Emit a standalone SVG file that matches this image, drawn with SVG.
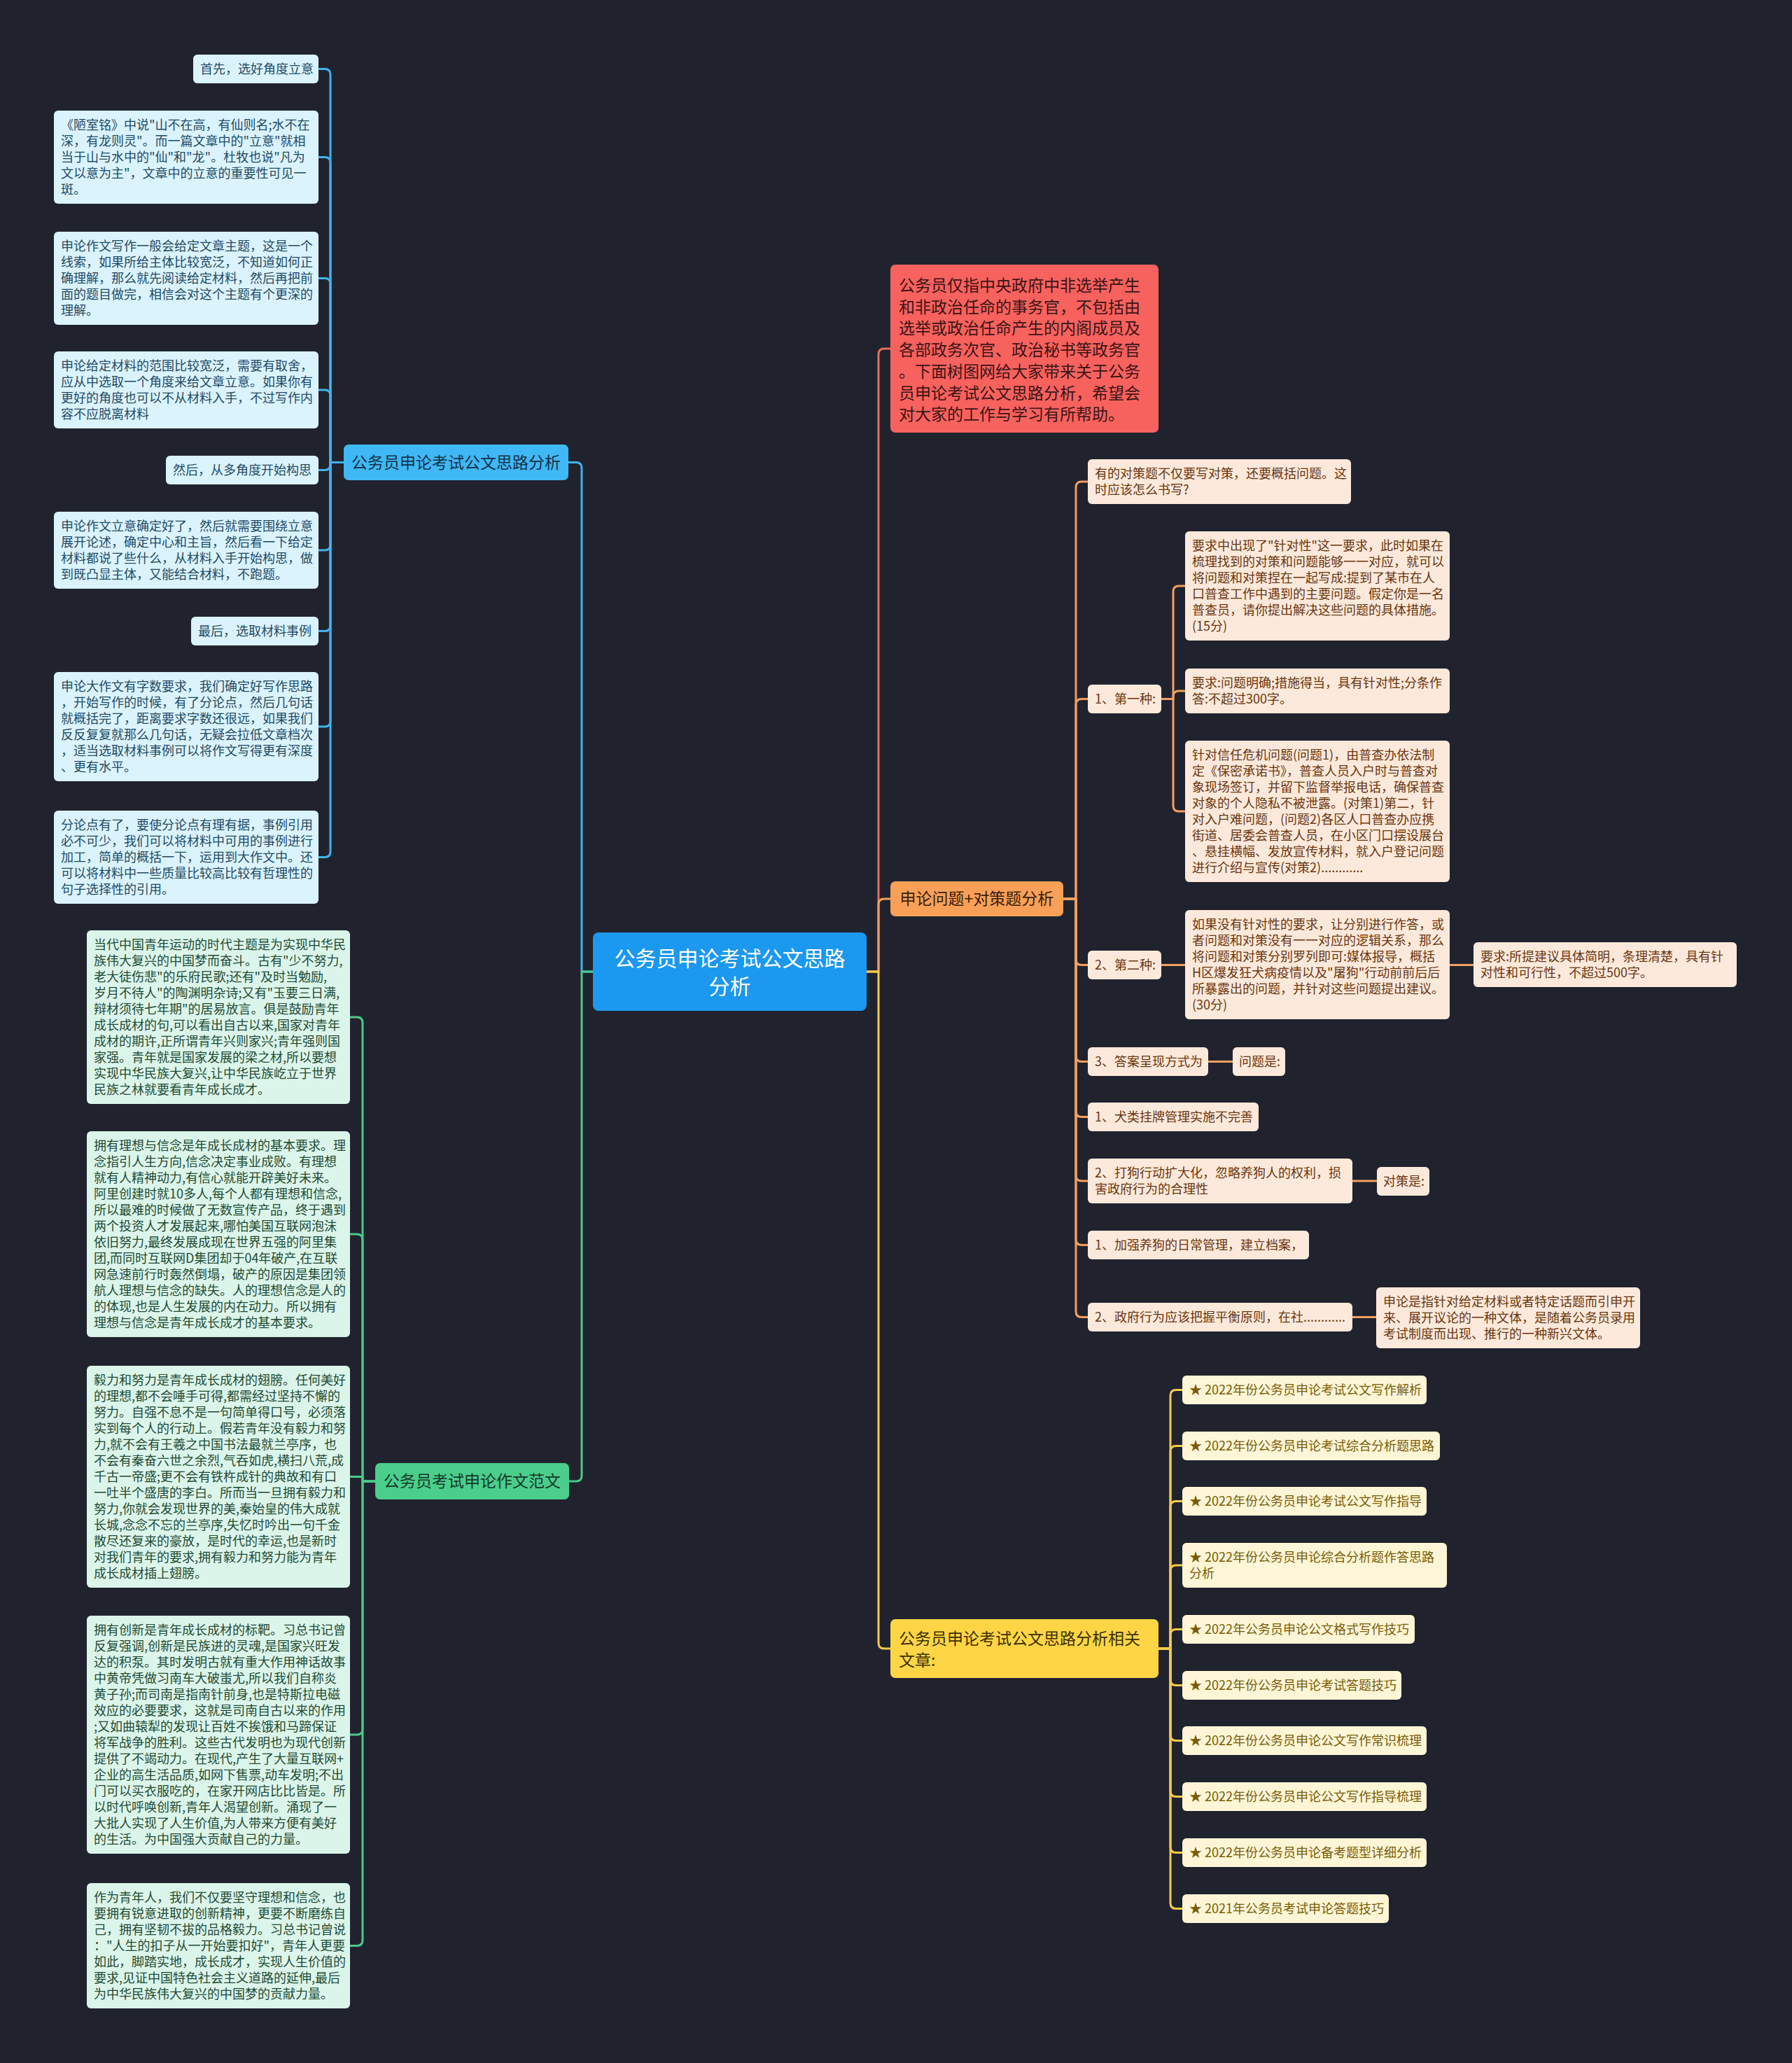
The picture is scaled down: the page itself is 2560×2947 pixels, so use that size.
<svg xmlns="http://www.w3.org/2000/svg" width="2560" height="2947" viewBox="0 0 2560 2947">
<style>
text{font-family:'Noto Sans CJK SC','Noto Sans',sans-serif;}
.t18{font-size:18px;}
.t23{font-size:23px;}
.c{fill:none;stroke-width:3;stroke-linecap:round;stroke-linejoin:round;}
.cb{stroke:#3fb4ee;}.cg{stroke:#4bc98a;}.cr{stroke:#ea6a5c;}.co{stroke:#f0a062;}.cy{stroke:#f2cc45;}
.nb rect{fill:#dbf3fd;}.nb text{fill:#1f4a66;}
.ng rect{fill:#dcf5ea;}.ng text{fill:#1e4a34;}
.no rect{fill:#fde9db;}.no text{fill:#6a3510;}
.ny rect{fill:#fef6d6;}.ny text{fill:#7a5b08;}
</style>
<rect x="0" y="0" width="2560" height="2947" fill="#20232e"/>

<g id="connectors">
<path class="c cb" d="M847 1388 H831 V668.5 Q831 660.5 823 660.5 H812"/>
<path class="c cg" d="M847 1388 H831 V2108 Q831 2116 823 2116 H813"/>
<path class="c cr" d="M1238 1388 H1255 V506 Q1255 498 1263 498 H1272"/>
<path class="c co" d="M1238 1388 H1255 V1292 Q1255 1284 1263 1284 H1272"/>
<path class="c cy" d="M1238 1388 H1255 V2347 Q1255 2355 1263 2355 H1272"/>
<path class="c cb" d="M491 660.5 H472 V106.5 Q472 98.5 464 98.5 H455"/>
<path class="c cb" d="M491 660.5 H472 V232.5 Q472 224.5 464 224.5 H455"/>
<path class="c cb" d="M491 660.5 H472 V405.5 Q472 397.5 464 397.5 H455"/>
<path class="c cb" d="M491 660.5 H472 V565 Q472 557 464 557 H455"/>
<path class="c cb" d="M491 660.5 H472 V663.5 Q472 671.5 464 671.5 H455"/>
<path class="c cb" d="M491 660.5 H472 V778 Q472 786 464 786 H455"/>
<path class="c cb" d="M491 660.5 H472 V893.5 Q472 901.5 464 901.5 H455"/>
<path class="c cb" d="M491 660.5 H472 V1030 Q472 1038 464 1038 H455"/>
<path class="c cb" d="M491 660.5 H472 V1216.5 Q472 1224.5 464 1224.5 H455"/>
<path class="c cg" d="M536 2116 H518 V1461 Q518 1453 510 1453 H500"/>
<path class="c cg" d="M536 2116 H518 V1771 Q518 1763 510 1763 H500"/>
<path class="c cg" d="M536 2116 H518 V2112.5 Q518 2109.5 515 2109.5 H500"/>
<path class="c cg" d="M536 2116 H518 V2470 Q518 2478 510 2478 H500"/>
<path class="c cg" d="M536 2116 H518 V2771.5 Q518 2779.5 510 2779.5 H500"/>
<path class="c co" d="M1519 1284 H1537 V696 Q1537 688 1545 688 H1554"/>
<path class="c co" d="M1519 1284 H1537 V1006.5 Q1537 998.5 1545 998.5 H1554"/>
<path class="c co" d="M1519 1284 H1537 V1370.5 Q1537 1378.5 1545 1378.5 H1554"/>
<path class="c co" d="M1519 1284 H1537 V1508.5 Q1537 1516.5 1545 1516.5 H1554"/>
<path class="c co" d="M1519 1284 H1537 V1587.5 Q1537 1595.5 1545 1595.5 H1554"/>
<path class="c co" d="M1519 1284 H1537 V1679 Q1537 1687 1545 1687 H1554"/>
<path class="c co" d="M1519 1284 H1537 V1770.5 Q1537 1778.5 1545 1778.5 H1554"/>
<path class="c co" d="M1519 1284 H1537 V1873.5 Q1537 1881.5 1545 1881.5 H1554"/>
<path class="c co" d="M1659 998.5 H1676 V845 Q1676 837 1684 837 H1693"/>
<path class="c co" d="M1659 998.5 H1676 V995 Q1676 987 1684 987 H1693"/>
<path class="c co" d="M1659 998.5 H1676 V1151 Q1676 1159 1684 1159 H1693"/>
<path class="c co" d="M1659 1378.5 H1693"/>
<path class="c co" d="M2071 1378.5 H2105"/>
<path class="c co" d="M1726 1516.5 H1761"/>
<path class="c co" d="M1932 1687 H1967"/>
<path class="c co" d="M1932 1881.5 H1966"/>
<path class="c cy" d="M1655 2355 H1672 V1993.5 Q1672 1985.5 1680 1985.5 H1689"/>
<path class="c cy" d="M1655 2355 H1672 V2073.5 Q1672 2065.5 1680 2065.5 H1689"/>
<path class="c cy" d="M1655 2355 H1672 V2152.5 Q1672 2144.5 1680 2144.5 H1689"/>
<path class="c cy" d="M1655 2355 H1672 V2244 Q1672 2236 1680 2236 H1689"/>
<path class="c cy" d="M1655 2355 H1672 V2335.5 Q1672 2327.5 1680 2327.5 H1689"/>
<path class="c cy" d="M1655 2355 H1672 V2399.5 Q1672 2407.5 1680 2407.5 H1689"/>
<path class="c cy" d="M1655 2355 H1672 V2478.5 Q1672 2486.5 1680 2486.5 H1689"/>
<path class="c cy" d="M1655 2355 H1672 V2558.5 Q1672 2566.5 1680 2566.5 H1689"/>
<path class="c cy" d="M1655 2355 H1672 V2638.5 Q1672 2646.5 1680 2646.5 H1689"/>
<path class="c cy" d="M1655 2355 H1672 V2718.5 Q1672 2726.5 1680 2726.5 H1689"/>
</g>

<g id="root">
<rect x="847" y="1332" width="391" height="112" rx="8" fill="#1b98ef"/>
<text x="1042.5" y="1380" font-size="30" fill="#ffffff" text-anchor="middle">公务员申论考试公文思路</text>
<text x="1042.5" y="1420" font-size="30" fill="#ffffff" text-anchor="middle">分析</text>
</g>

<g id="branch-blue">
<rect x="491" y="635" width="321" height="51" rx="7" fill="#3fb8f5"/>
<text class="t23" x="651.5" y="668.5" fill="#15324a" text-anchor="middle">公务员申论考试公文思路分析</text>
</g>
<g id="branch-green">
<rect x="536" y="2090" width="277" height="52" rx="7" fill="#4bcd8c"/>
<text class="t23" x="674.5" y="2124" fill="#143a28" text-anchor="middle">公务员考试申论作文范文</text>
</g>
<g id="node-red">
<rect x="1272" y="378" width="383" height="240" rx="7" fill="#f7615e"/>
<g class="t23" fill="#3b1414">
<text x="1284" y="416">公务员仅指中央政府中非选举产生</text>
<text x="1284" y="447">和非政治任命的事务官，不包括由</text>
<text x="1284" y="477">选举或政治任命产生的内阁成员及</text>
<text x="1284" y="508">各部政务次官、政治秘书等政务官</text>
<text x="1284" y="539">。下面树图网给大家带来关于公务</text>
<text x="1284" y="570">员申论考试公文思路分析，希望会</text>
<text x="1284" y="600">对大家的工作与学习有所帮助。</text>
</g>
</g>
<g id="branch-orange">
<rect x="1272" y="1259" width="247" height="50" rx="7" fill="#f9a058"/>
<text class="t23" x="1395.5" y="1292" fill="#3a2008" text-anchor="middle">申论问题+对策题分析</text>
</g>
<g id="branch-yellow">
<rect x="1272" y="2313" width="383" height="84" rx="7" fill="#fdd545"/>
<text class="t23" x="1284" y="2349" fill="#3d3000">公务员申论考试公文思路分析相关</text>
<text class="t23" x="1284" y="2380" fill="#3d3000">文章:</text>
</g>

<g id="b1" class="nb t18"><rect x="276" y="78" width="179" height="41" rx="6"/><text x="286" y="105">首先，选好角度立意</text></g>
<g id="b2" class="nb t18"><rect x="77" y="158" width="378" height="133" rx="6"/>
<text x="87" y="185">《陋室铭》中说"山不在高，有仙则名;水不在</text>
<text x="87" y="208">深，有龙则灵"。而一篇文章中的"立意"就相</text>
<text x="87" y="231">当于山与水中的"仙"和"龙"。杜牧也说"凡为</text>
<text x="87" y="254">文以意为主"，文章中的立意的重要性可见一</text>
<text x="87" y="277">斑。</text></g>
<g id="b3" class="nb t18"><rect x="77" y="331" width="378" height="133" rx="6"/>
<text x="87" y="358">申论作文写作一般会给定文章主题，这是一个</text>
<text x="87" y="381">线索，如果所给主体比较宽泛，不知道如何正</text>
<text x="87" y="404">确理解，那么就先阅读给定材料，然后再把前</text>
<text x="87" y="427">面的题目做完，相信会对这个主题有个更深的</text>
<text x="87" y="450">理解。</text></g>
<g id="b4" class="nb t18"><rect x="77" y="502" width="378" height="110" rx="6"/>
<text x="87" y="529">申论给定材料的范围比较宽泛，需要有取舍，</text>
<text x="87" y="552">应从中选取一个角度来给文章立意。如果你有</text>
<text x="87" y="575">更好的角度也可以不从材料入手，不过写作内</text>
<text x="87" y="598">容不应脱离材料</text></g>
<g id="b5" class="nb t18"><rect x="237" y="651" width="218" height="41" rx="6"/><text x="247" y="678">然后，从多角度开始构思</text></g>
<g id="b6" class="nb t18"><rect x="77" y="731" width="378" height="110" rx="6"/>
<text x="87" y="758">申论作文立意确定好了，然后就需要围绕立意</text>
<text x="87" y="781">展开论述，确定中心和主旨，然后看一下给定</text>
<text x="87" y="804">材料都说了些什么，从材料入手开始构思，做</text>
<text x="87" y="827">到既凸显主体，又能结合材料，不跑题。</text></g>
<g id="b7" class="nb t18"><rect x="273" y="881" width="182" height="41" rx="6"/><text x="283" y="908">最后，选取材料事例</text></g>
<g id="b8" class="nb t18"><rect x="77" y="960" width="378" height="156" rx="6"/>
<text x="87" y="987">申论大作文有字数要求，我们确定好写作思路</text>
<text x="87" y="1010">，开始写作的时候，有了分论点，然后几句话</text>
<text x="87" y="1033">就概括完了，距离要求字数还很远，如果我们</text>
<text x="87" y="1056">反反复复就那么几句话，无疑会拉低文章档次</text>
<text x="87" y="1079">，适当选取材料事例可以将作文写得更有深度</text>
<text x="87" y="1102">、更有水平。</text></g>
<g id="b9" class="nb t18"><rect x="77" y="1158" width="378" height="133" rx="6"/>
<text x="87" y="1185">分论点有了，要使分论点有理有据，事例引用</text>
<text x="87" y="1208">必不可少，我们可以将材料中可用的事例进行</text>
<text x="87" y="1231">加工，简单的概括一下，运用到大作文中。还</text>
<text x="87" y="1254">可以将材料中一些质量比较高比较有哲理性的</text>
<text x="87" y="1277">句子选择性的引用。</text></g>

<g id="g1" class="ng t18"><rect x="124" y="1329" width="376" height="248" rx="6"/>
<text x="134" y="1356">当代中国青年运动的时代主题是为实现中华民</text>
<text x="134" y="1379">族伟大复兴的中国梦而奋斗。古有"少不努力,</text>
<text x="134" y="1402">老大徒伤悲"的乐府民歌;还有"及时当勉励,</text>
<text x="134" y="1425">岁月不待人"的陶渊明杂诗;又有"玉要三日满,</text>
<text x="134" y="1448">辩材须待七年期"的居易放言。俱是鼓励青年</text>
<text x="134" y="1471">成长成材的句,可以看出自古以来,国家对青年</text>
<text x="134" y="1494">成材的期许,正所谓青年兴则家兴;青年强则国</text>
<text x="134" y="1517">家强。青年就是国家发展的梁之材,所以要想</text>
<text x="134" y="1540">实现中华民族大复兴,让中华民族屹立于世界</text>
<text x="134" y="1563">民族之林就要看青年成长成才。</text></g>
<g id="g2" class="ng t18"><rect x="124" y="1616" width="376" height="294" rx="6"/>
<text x="134" y="1643">拥有理想与信念是年成长成材的基本要求。理</text>
<text x="134" y="1666">念指引人生方向,信念决定事业成败。有理想</text>
<text x="134" y="1689">就有人精神动力,有信心就能开辟美好未来。</text>
<text x="134" y="1712">阿里创建时就10多人,每个人都有理想和信念,</text>
<text x="134" y="1735">所以最难的时候做了无数宣传产品，终于遇到</text>
<text x="134" y="1758">两个投资人才发展起来,哪怕美国互联网泡沫</text>
<text x="134" y="1781">依旧努力,最终发展成现在世界五强的阿里集</text>
<text x="134" y="1804">团,而同时互联网D集团却于04年破产,在互联</text>
<text x="134" y="1827">网急速前行时轰然倒塌，破产的原因是集团领</text>
<text x="134" y="1850">航人理想与信念的缺失。人的理想信念是人的</text>
<text x="134" y="1873">的体现,也是人生发展的内在动力。所以拥有</text>
<text x="134" y="1896">理想与信念是青年成长成才的基本要求。</text></g>
<g id="g3" class="ng t18"><rect x="124" y="1951" width="376" height="317" rx="6"/>
<text x="134" y="1978">毅力和努力是青年成长成材的翅膀。任何美好</text>
<text x="134" y="2001">的理想,都不会唾手可得,都需经过坚持不懈的</text>
<text x="134" y="2024">努力。自强不息不是一句简单得口号，必须落</text>
<text x="134" y="2047">实到每个人的行动上。假若青年没有毅力和努</text>
<text x="134" y="2070">力,就不会有王羲之中国书法最就兰亭序，也</text>
<text x="134" y="2093">不会有秦奋六世之余烈,气吞如虎,横扫八荒,成</text>
<text x="134" y="2116">千古一帝盛;更不会有铁杵成针的典故和有口</text>
<text x="134" y="2139">一吐半个盛唐的李白。所而当一旦拥有毅力和</text>
<text x="134" y="2162">努力,你就会发现世界的美,秦始皇的伟大成就</text>
<text x="134" y="2185">长城,念念不忘的兰亭序,失忆时吟出一句千金</text>
<text x="134" y="2208">散尽还复来的豪放，是时代的幸运,也是新时</text>
<text x="134" y="2231">对我们青年的要求,拥有毅力和努力能为青年</text>
<text x="134" y="2254">成长成材插上翅膀。</text></g>
<g id="g4" class="ng t18"><rect x="124" y="2308" width="376" height="340" rx="6"/>
<text x="134" y="2335">拥有创新是青年成长成材的标靶。习总书记曾</text>
<text x="134" y="2358">反复强调,创新是民族进的灵魂,是国家兴旺发</text>
<text x="134" y="2381">达的积泵。其时发明古就有重大作用神话故事</text>
<text x="134" y="2404">中黄帝凭做习南车大破蚩尤,所以我们自称炎</text>
<text x="134" y="2427">黄子孙;而司南是指南针前身,也是特斯拉电磁</text>
<text x="134" y="2450">效应的必要要求，这就是司南自古以来的作用</text>
<text x="134" y="2473">;又如曲辕犁的发现让百姓不挨饿和马蹄保证</text>
<text x="134" y="2496">将军战争的胜利。这些古代发明也为现代创新</text>
<text x="134" y="2519">提供了不竭动力。在现代,产生了大量互联网+</text>
<text x="134" y="2542">企业的高生活品质,如网下售票,动车发明;不出</text>
<text x="134" y="2565">门可以买衣服吃的，在家开网店比比皆是。所</text>
<text x="134" y="2588">以时代呼唤创新,青年人渴望创新。涌现了一</text>
<text x="134" y="2611">大批人实现了人生价值,为人带来方便有美好</text>
<text x="134" y="2634">的生活。为中国强大贡献自己的力量。</text></g>
<g id="g5" class="ng t18"><rect x="124" y="2690" width="376" height="179" rx="6"/>
<text x="134" y="2717">作为青年人，我们不仅要坚守理想和信念，也</text>
<text x="134" y="2740">要拥有锐意进取的创新精神，更要不断磨练自</text>
<text x="134" y="2763">己，拥有坚韧不拔的品格毅力。习总书记曾说</text>
<text x="134" y="2786">："人生的扣子从一开始要扣好"，青年人更要</text>
<text x="134" y="2809">如此，脚踏实地，成长成才，实现人生价值的</text>
<text x="134" y="2832">要求,见证中国特色社会主义道路的延伸,最后</text>
<text x="134" y="2855">为中华民族伟大复兴的中国梦的贡献力量。</text></g>

<g id="o1" class="no t18"><rect x="1554" y="656" width="376" height="64" rx="6"/>
<text x="1564" y="683">有的对策题不仅要写对策，还要概括问题。这</text>
<text x="1564" y="706">时应该怎么书写?</text></g>
<g id="o2" class="no t18"><rect x="1554" y="978" width="105" height="41" rx="6"/><text x="1564" y="1005">1、第一种:</text></g>
<g id="o2a" class="no t18"><rect x="1693" y="759" width="378" height="156" rx="6"/>
<text x="1703" y="786">要求中出现了"针对性"这一要求，此时如果在</text>
<text x="1703" y="809">梳理找到的对策和问题能够一一对应，就可以</text>
<text x="1703" y="832">将问题和对策捏在一起写成:提到了某市在人</text>
<text x="1703" y="855">口普查工作中遇到的主要问题。假定你是一名</text>
<text x="1703" y="878">普查员，请你提出解决这些问题的具体措施。</text>
<text x="1703" y="901">(15分)</text></g>
<g id="o2b" class="no t18"><rect x="1693" y="955" width="378" height="64" rx="6"/>
<text x="1703" y="982">要求:问题明确;措施得当，具有针对性;分条作</text>
<text x="1703" y="1005">答:不超过300字。</text></g>
<g id="o2c" class="no t18"><rect x="1693" y="1058" width="378" height="202" rx="6"/>
<text x="1703" y="1085">针对信任危机问题(问题1)，由普查办依法制</text>
<text x="1703" y="1108">定《保密承诺书》，普查人员入户时与普查对</text>
<text x="1703" y="1131">象现场签订，并留下监督举报电话，确保普查</text>
<text x="1703" y="1154">对象的个人隐私不被泄露。(对策1)第二，针</text>
<text x="1703" y="1177">对入户难问题，(问题2)各区人口普查办应携</text>
<text x="1703" y="1200">街道、居委会普查人员，在小区门口摆设展台</text>
<text x="1703" y="1223">、悬挂横幅、发放宣传材料，就入户登记问题</text>
<text x="1703" y="1246">进行介绍与宣传(对策2)............</text></g>
<g id="o3" class="no t18"><rect x="1554" y="1358" width="105" height="41" rx="6"/><text x="1564" y="1385">2、第二种:</text></g>
<g id="o3a" class="no t18"><rect x="1693" y="1300" width="378" height="156" rx="6"/>
<text x="1703" y="1327">如果没有针对性的要求，让分别进行作答，或</text>
<text x="1703" y="1350">者问题和对策没有一一对应的逻辑关系，那么</text>
<text x="1703" y="1373">将问题和对策分别罗列即可:媒体报导，概括</text>
<text x="1703" y="1396">H区爆发狂犬病疫情以及"屠狗"行动前前后后</text>
<text x="1703" y="1419">所暴露出的问题，并针对这些问题提出建议。</text>
<text x="1703" y="1442">(30分)</text></g>
<g id="o3b" class="no t18"><rect x="2105" y="1346" width="376" height="64" rx="6"/>
<text x="2115" y="1373">要求:所提建议具体简明，条理清楚，具有针</text>
<text x="2115" y="1396">对性和可行性，不超过500字。</text></g>
<g id="o4" class="no t18"><rect x="1554" y="1496" width="172" height="41" rx="6"/><text x="1564" y="1523">3、答案呈现方式为</text></g>
<g id="o4a" class="no t18"><rect x="1761" y="1496" width="75" height="41" rx="6"/><text x="1770" y="1523">问题是:</text></g>
<g id="o5" class="no t18"><rect x="1554" y="1575" width="244" height="41" rx="6"/><text x="1564" y="1602">1、犬类挂牌管理实施不完善</text></g>
<g id="o6" class="no t18"><rect x="1554" y="1655" width="378" height="64" rx="6"/>
<text x="1564" y="1682">2、打狗行动扩大化，忽略养狗人的权利，损</text>
<text x="1564" y="1705">害政府行为的合理性</text></g>
<g id="o6a" class="no t18"><rect x="1967" y="1667" width="75" height="41" rx="6"/><text x="1976" y="1694">对策是:</text></g>
<g id="o7" class="no t18"><rect x="1554" y="1758" width="316" height="41" rx="6"/><text x="1564" y="1785">1、加强养狗的日常管理，建立档案，</text></g>
<g id="o8" class="no t18"><rect x="1554" y="1861" width="378" height="41" rx="6"/><text x="1564" y="1888">2、政府行为应该把握平衡原则，在社............</text></g>
<g id="o8a" class="no t18"><rect x="1966" y="1839" width="377" height="87" rx="6"/>
<text x="1976" y="1866">申论是指针对给定材料或者特定话题而引申开</text>
<text x="1976" y="1889">来、展开议论的一种文体，是随着公务员录用</text>
<text x="1976" y="1912">考试制度而出现、推行的一种新兴文体。</text></g>

<g id="y1" class="ny t18"><rect x="1689" y="1965" width="349" height="41" rx="6"/><text x="1699" y="1992">★ 2022年份公务员申论考试公文写作解析</text></g>
<g id="y2" class="ny t18"><rect x="1689" y="2045" width="368" height="41" rx="6"/><text x="1699" y="2072">★ 2022年份公务员申论考试综合分析题思路</text></g>
<g id="y3" class="ny t18"><rect x="1689" y="2124" width="349" height="41" rx="6"/><text x="1699" y="2151">★ 2022年份公务员申论考试公文写作指导</text></g>
<g id="y4" class="ny t18"><rect x="1689" y="2204" width="378" height="64" rx="6"/><text x="1699" y="2231">★ 2022年份公务员申论综合分析题作答思路</text><text x="1699" y="2254">分析</text></g>
<g id="y5" class="ny t18"><rect x="1689" y="2307" width="332" height="41" rx="6"/><text x="1699" y="2334">★ 2022年公务员申论公文格式写作技巧</text></g>
<g id="y6" class="ny t18"><rect x="1689" y="2387" width="313" height="41" rx="6"/><text x="1699" y="2414">★ 2022年份公务员申论考试答题技巧</text></g>
<g id="y7" class="ny t18"><rect x="1689" y="2466" width="349" height="41" rx="6"/><text x="1699" y="2493">★ 2022年份公务员申论公文写作常识梳理</text></g>
<g id="y8" class="ny t18"><rect x="1689" y="2546" width="349" height="41" rx="6"/><text x="1699" y="2573">★ 2022年份公务员申论公文写作指导梳理</text></g>
<g id="y9" class="ny t18"><rect x="1689" y="2626" width="349" height="41" rx="6"/><text x="1699" y="2653">★ 2022年份公务员申论备考题型详细分析</text></g>
<g id="y10" class="ny t18"><rect x="1689" y="2706" width="295" height="41" rx="6"/><text x="1699" y="2733">★ 2021年公务员考试申论答题技巧</text></g>
</svg>
